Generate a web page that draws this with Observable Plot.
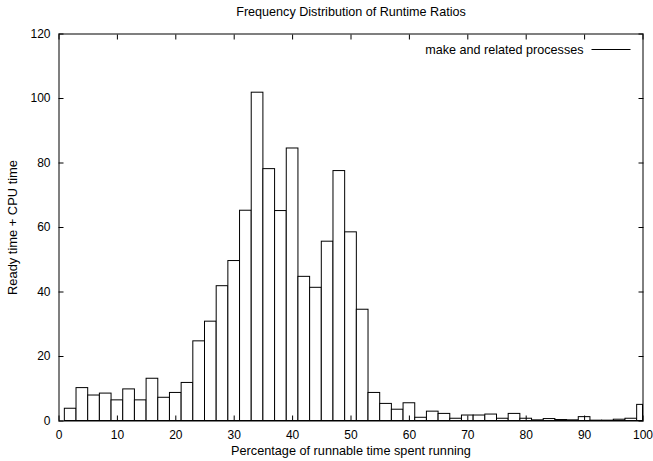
<!DOCTYPE html>
<html>
<head>
<meta charset="utf-8">
<script src="https://cdn.jsdelivr.net/npm/d3@7"></script>
<script src="https://cdn.jsdelivr.net/npm/@observablehq/plot@0.6"></script>
<style>
  html, body { margin: 0; padding: 0; background: #fff; }
  #chart svg { display: block; }
</style>
</head>
<body>
<div id="chart"></div>
<script>
const title = "Frequency Distribution of Runtime Ratios";
const xLabel = "Percentage of runnable time spent running";
const yLabel = "Ready time + CPU time";
const seriesName = "make and related processes";

const binCenters = [2,4,6,8,10,12,14,16,18,20,22,24,26,28,30,32,34,36,38,40,42,44,46,48,50,
  52,54,56,58,60,62,64,66,68,70,72,74,76,78,80,82,84,86,88,90,92,94,96,98,100];
const counts = [3.8,10.2,7.9,8.5,6.4,9.8,6.4,13.1,7.2,8.7,11.8,24.7,30.8,41.8,49.6,65.2,101.8,78.1,65.1,84.5,44.7,
  41.3,55.6,77.5,58.5,34.5,8.7,5.3,3.5,5.5,1.0,2.9,2.2,0.7,1.7,1.7,2.0,0.7,2.2,0.7,0.2,0.6,0.3,0.2,1.2,0.1,0.1,0.4,0.7,5.0];
const binWidth = 2;
const xTicks = [0,10,20,30,40,50,60,70,80,90,100];
const yTicks = [0,20,40,60,80,100,120];

const data = binCenters.map((c, i) => ({
  x1: c - binWidth / 2,
  x2: Math.min(c + binWidth / 2, 100),
  y: counts[i]
}));

const font = "'Liberation Sans', Arial, Helvetica, sans-serif";
const mL = 58.5, mR = 10.5, mT = 33.5, mB = 40.5, W = 653, H = 461;

const plot = Plot.plot({
  width: W,
  height: H,
  marginLeft: mL,
  marginRight: mR,
  marginTop: mT,
  marginBottom: mB,
  style: { fontFamily: font, fontSize: "12px", color: "#000", background: "#fff", overflow: "visible" },
  x: { domain: [0, 100] },
  y: { domain: [0, 120] },
  marks: [
    Plot.rectY(data, { x1: "x1", x2: "x2", y: "y", fill: "white", stroke: "black", strokeWidth: 1 }),
    Plot.axisX(xTicks, { anchor: "bottom", tickSize: -5, tickPadding: 14, fontSize: 12, label: null }),
    Plot.axisX({ anchor: "bottom", ticks: [], label: xLabel, labelAnchor: "center", labelArrow: "none", labelOffset: 34, fontSize: 12.7 }),
    Plot.axisX(xTicks, { anchor: "top", tickSize: -5, tickFormat: () => "", label: null }),
    Plot.axisY(yTicks, { anchor: "left", tickSize: -5, tickPadding: 13.5, fontSize: 12, label: null }),
    Plot.axisY({ anchor: "left", ticks: [], label: yLabel, labelAnchor: "center", labelArrow: "none", labelOffset: 51, fontSize: 12.9 }),
    Plot.axisY(yTicks, { anchor: "right", tickSize: -5, tickFormat: () => "", label: null }),
    Plot.frame({ stroke: "black", strokeWidth: 1 }),
    Plot.text([title], { frameAnchor: "top", dy: -27, fontSize: 12.6, fill: "black" })
  ]
});

// Legend (key) in top-right corner of the plot area
const svg = d3.select(plot);
const rightEdge = W - mR;
const keyY = mT + 16;
const g = svg.append("g").attr("font-family", font).attr("font-size", 12.6);
g.append("text")
  .attr("x", rightEdge - 59)
  .attr("y", keyY)
  .attr("dy", "0.32em")
  .attr("text-anchor", "end")
  .attr("fill", "black")
  .text(seriesName);
g.append("line")
  .attr("x1", rightEdge - 51)
  .attr("x2", rightEdge - 12)
  .attr("y1", keyY)
  .attr("y2", keyY)
  .attr("stroke", "black")
  .attr("stroke-width", 1);

document.getElementById("chart").appendChild(plot);
</script>
</body>
</html>
